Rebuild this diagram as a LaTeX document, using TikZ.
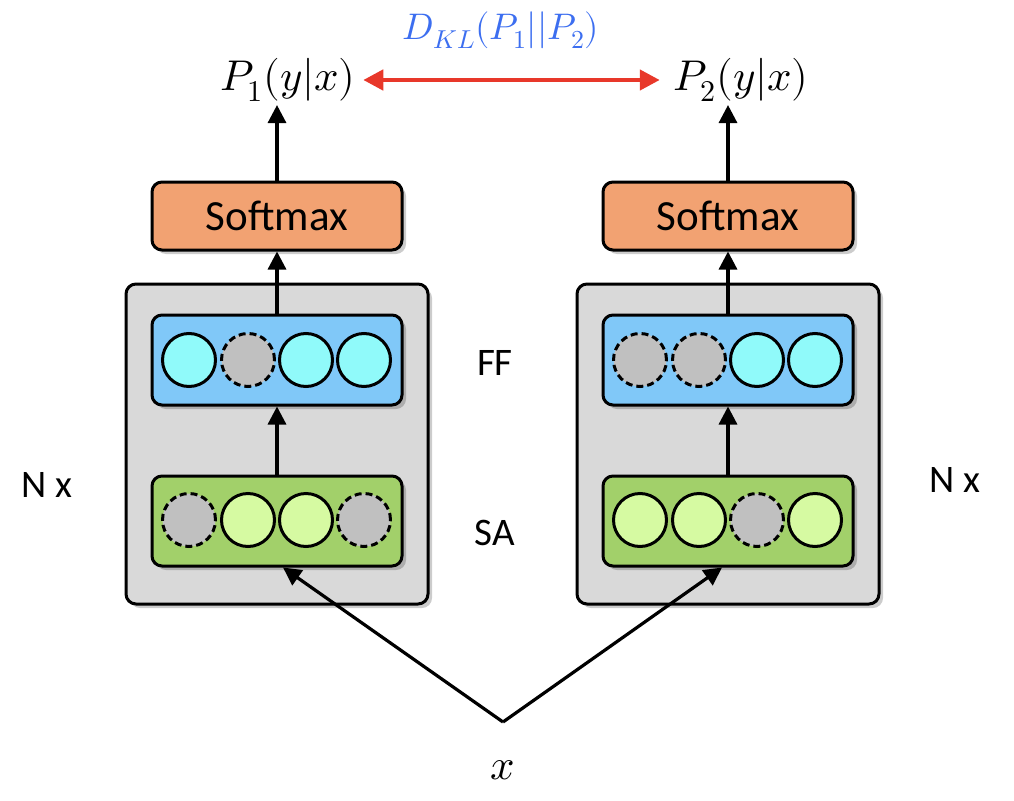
\documentclass[tikz,border=0pt]{standalone}
\usepackage{fontspec}
\setmainfont{Carlito}
\usepackage{unicode-math}
\setmathfont{Latin Modern Math}
\usetikzlibrary{arrows.meta,shadows,calc}
\definecolor{boxgray}{HTML}{D9D9D9}
\definecolor{smax}{HTML}{F2A272}
\definecolor{ffblue}{HTML}{80C8F8}
\definecolor{cyanc}{HTML}{90FAFA}
\definecolor{sagreen}{HTML}{A2D06A}
\definecolor{lgreen}{HTML}{D6FAA2}
\definecolor{dropgray}{HTML}{C0C0C0}
\definecolor{klblue}{HTML}{3C6EF0}
\definecolor{klred}{HTML}{E8382A}
\tikzset{
  x=1pt,y=-1pt,
  shad/.style={drop shadow={shadow xshift=4pt,shadow yshift=-4pt,opacity=0.2,fill=black}},
  outer/.style={draw=black,line width=3pt,rounded corners=10pt,fill=boxgray,minimum width=302pt,minimum height=320pt,shad},
  smbox/.style={draw=black,line width=3pt,rounded corners=10pt,fill=smax,minimum width=250pt,minimum height=68pt,font=\fontsize{43}{50}\selectfont,shad},
  layer/.style={draw=black,line width=3pt,rounded corners=10pt,minimum width=250pt,minimum height=90pt,shad},
  unit/.style={circle,draw=black,line width=3pt,minimum size=53pt,inner sep=0pt},
  on/.style={unit,fill=#1},
  off/.style={unit,fill=dropgray,dash pattern=on 7pt off 4pt},
  arr/.style={line width=3.2pt,-{Triangle[length=18pt,width=18pt]}},
  lbl/.style={font=\fontsize{39}{46}\selectfont},
  mth/.style={font=\fontsize{43}{50}\selectfont},
}
\begin{document}
\begin{tikzpicture}
\useasboundingbox (0,0) rectangle (1014,800);
% outer boxes
\node[outer] (gL) at (277,444) {};
\node[outer] (gR) at (728,444) {};
% softmax
\node[smbox] (smL) at (277,216) {Softmax};
\node[smbox] (smR) at (728,216) {Softmax};
% layers
\node[layer,fill=ffblue] (ffL) at (277,360) {};
\node[layer,fill=sagreen] (saL) at (277,521) {};
\node[layer,fill=ffblue] (ffR) at (728,360) {};
\node[layer,fill=sagreen] (saR) at (728,521) {};
% left FF circles
\node[on=cyanc] (fl1) at (189,360) {};
\node[off] (fl2) at (248,360) {};
\node[on=cyanc] (fl3) at (306,360) {};
\node[on=cyanc] (fl4) at (364,360) {};
% left SA circles
\node[off] (sl1) at (189,520) {};
\node[on=lgreen] (sl2) at (248,520) {};
\node[on=lgreen] (sl3) at (306,520) {};
\node[off] (sl4) at (364,520) {};
% right FF circles
\node[off] (fr1) at (640,360) {};
\node[off] (fr2) at (699,360) {};
\node[on=cyanc] (fr3) at (757,360) {};
\node[on=cyanc] (fr4) at (815,360) {};
% right SA circles
\node[on=lgreen] (sr1) at (640,520) {};
\node[on=lgreen] (sr2) at (699,520) {};
\node[off] (sr3) at (757,520) {};
\node[on=lgreen] (sr4) at (815,520) {};
% labels
\node[lbl] (ff) at (495,363) {FF};
\node[lbl] (sa) at (495,533) {SA};
\node[lbl] (nxL) at (47,485) {N x};
\node[lbl] (nxR) at (955,480) {N x};
% outputs
\node[mth] (p1) at (288,80) {$P_1(y|x)$};
\node[mth] (p2) at (741,80) {$P_2(y|x)$};
\node[font=\fontsize{37}{44}\selectfont,text=klblue] (kl) at (501,30) {$D_{KL}(P_1||P_2)$};
\draw[line width=4.5pt,klred,{Triangle[length=20pt,width=20pt]}-{Triangle[length=20pt,width=20pt]},shorten <=4pt,shorten >=10pt] (p1.east) -- (p2.west);
% input
\node[mth] (x) at (503,770) {$x$};
\coordinate (v) at (503,722);
\coordinate (inL) at ($(saL.south)+(6,0)$);
\coordinate (inR) at ($(saR.south)+(-6,0)$);
\draw[arr] (v) -- (inL);
\draw[arr] (v) -- (inR);
% vertical arrows
\draw[arr] (saL.north) -- (ffL.south);
\draw[arr] (ffL.north) -- (smL.south);
\draw[arr] (smL.north) -- (p1.south -| smL.north);
\draw[arr] (saR.north) -- (ffR.south);
\draw[arr] (ffR.north) -- (smR.south);
\draw[arr] (smR.north) -- (p2.south -| smR.north);
\end{tikzpicture}
\end{document}
